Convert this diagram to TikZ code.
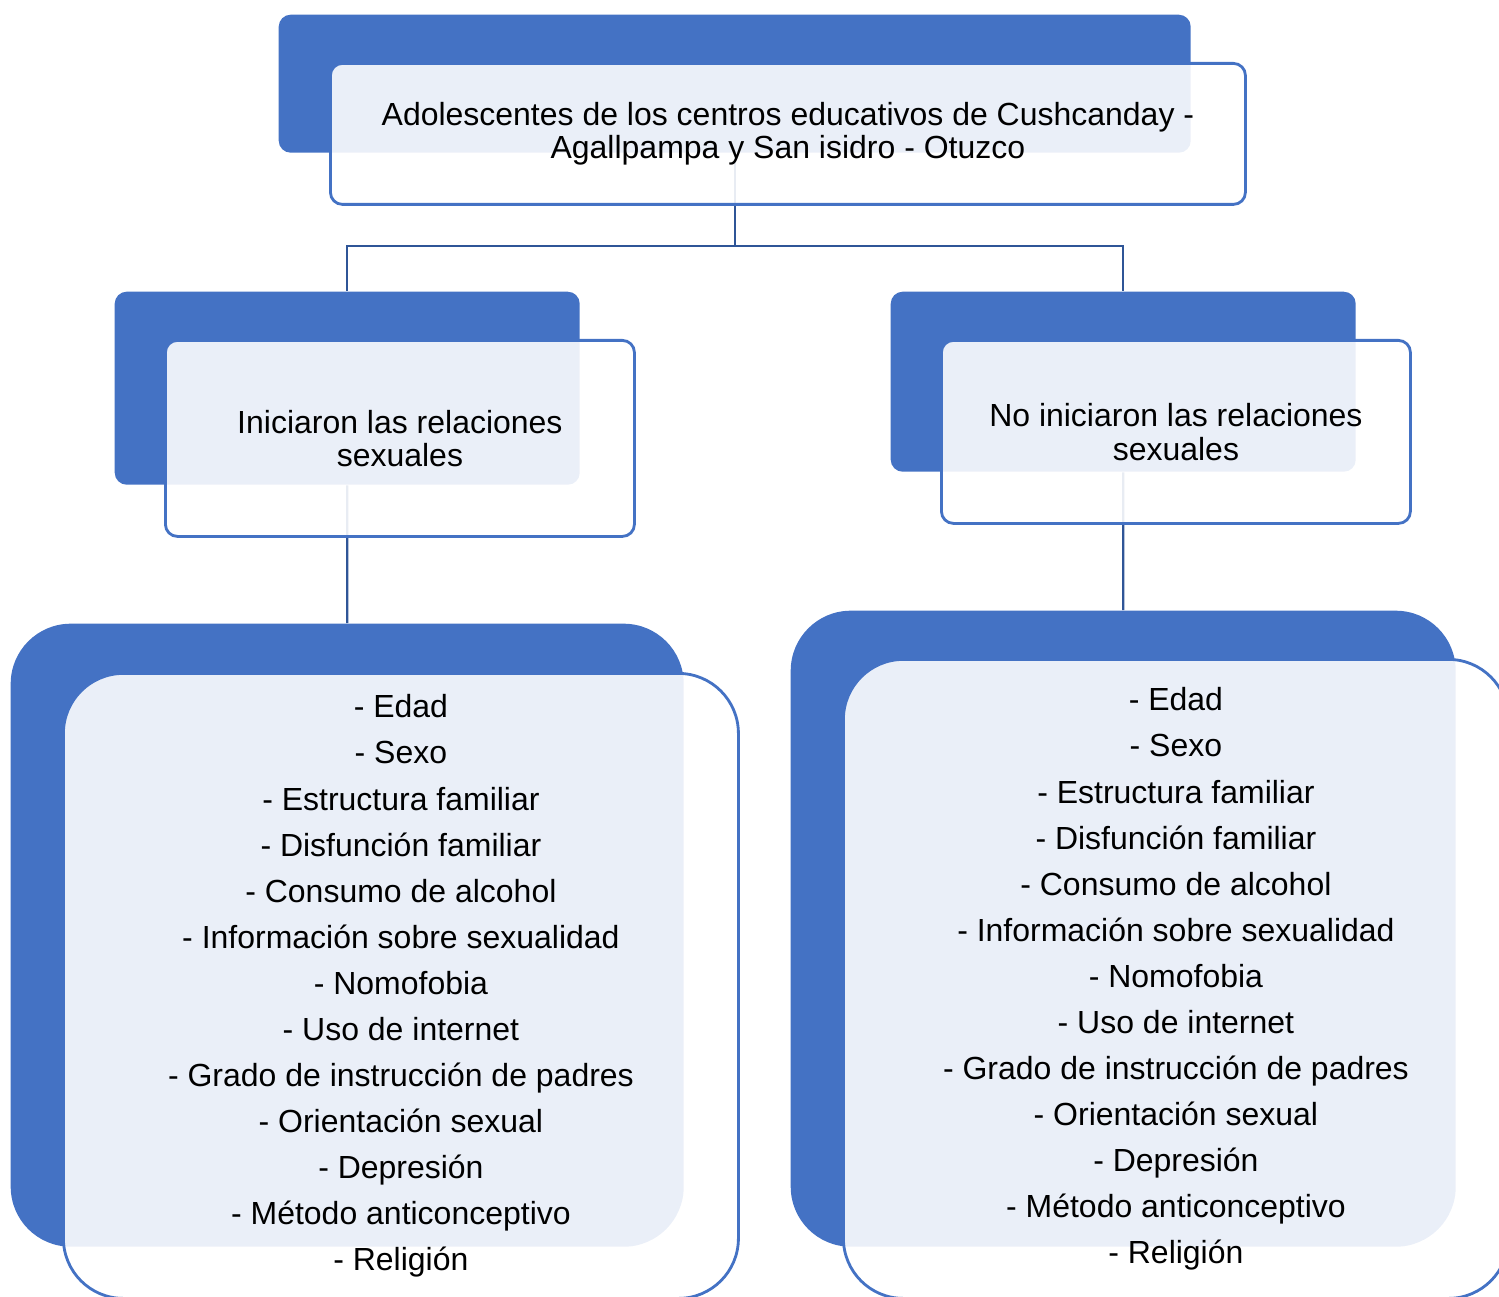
\documentclass[tikz,border=0pt]{standalone}
\usepackage{fontspec}
\setmainfont{Liberation Sans}
\usetikzlibrary{positioning}
\definecolor{boxblue}{HTML}{4472C4}
\definecolor{linkblue}{HTML}{2F5597}
\tikzset{
  backbox/.style={fill=boxblue, inner sep=0pt, anchor=north west},
  frontbox/.style={draw=boxblue, line width=0.8pt, fill=white, fill opacity=0.89, text opacity=1, inner sep=0pt, anchor=north west, align=center, font=\fontsize{9.1}{9.5}\selectfont},
  listbox/.style={frontbox, rounded corners=0.6cm, font=\fontsize{9.1}{13.1}\selectfont},
  link/.style={draw=linkblue, line width=0.6pt},
}
\begin{document}
\begin{tikzpicture}
\useasboundingbox (0,0) rectangle (14.99,-12.97);
% blue boxes behind
\node[backbox, rounded corners=0.12cm, minimum width=9.12cm, minimum height=1.38cm] (topback) at (2.78,-0.14) {};
\node[backbox, rounded corners=0.12cm, minimum width=4.65cm, minimum height=1.93cm] (leftback) at (1.14,-2.91) {};
\node[backbox, rounded corners=0.12cm, minimum width=4.65cm, minimum height=1.80cm] (rightback) at (8.90,-2.91) {};
\node[backbox, rounded corners=0.6cm, minimum width=6.73cm, minimum height=6.23cm] (leftlistback) at (0.10,-6.23) {};
\node[backbox, rounded corners=0.6cm, minimum width=6.65cm, minimum height=6.36cm] (rightlistback) at (7.90,-6.10) {};
% connectors
\draw[link] (topback.south) -- ++(0,-0.93) coordinate (split);
\draw[link] (leftback.north) |- (split) -| (rightback.north);
\draw[link] (leftback.south) -- (leftlistback.north);
\draw[link] (rightback.south) -- (rightlistback.north);
% text boxes in front
\node[frontbox, rounded corners=0.12cm, minimum width=9.15cm, minimum height=1.41cm] (top) at (3.29,-0.62)
  {Adolescentes de los centros educativos de Cushcanday -\\Agallpampa y San isidro - Otuzco};
\node[frontbox, rounded corners=0.12cm, minimum width=4.69cm, minimum height=1.96cm] (left) at (1.64,-3.39)
  {Iniciaron las relaciones\\sexuales};
\node[frontbox, rounded corners=0.12cm, minimum width=4.69cm, minimum height=1.83cm] (right) at (9.40,-3.39)
  {No iniciaron las relaciones\\sexuales};
\node[listbox, minimum width=6.75cm, minimum height=6.25cm] (leftlist) at (0.62,-6.72)
  {- Edad\\- Sexo\\- Estructura familiar\\- Disfunción familiar\\- Consumo de alcohol\\- Información sobre sexualidad\\- Nomofobia\\- Uso de internet\\- Grado de instrucción de padres\\- Orientación sexual\\- Depresión\\- Método anticonceptivo\\- Religión};
\node[listbox, minimum width=6.65cm, minimum height=6.39cm] (rightlist) at (8.42,-6.58)
  {- Edad\\- Sexo\\- Estructura familiar\\- Disfunción familiar\\- Consumo de alcohol\\- Información sobre sexualidad\\- Nomofobia\\- Uso de internet\\- Grado de instrucción de padres\\- Orientación sexual\\- Depresión\\- Método anticonceptivo\\- Religión};
\end{tikzpicture}
\end{document}
